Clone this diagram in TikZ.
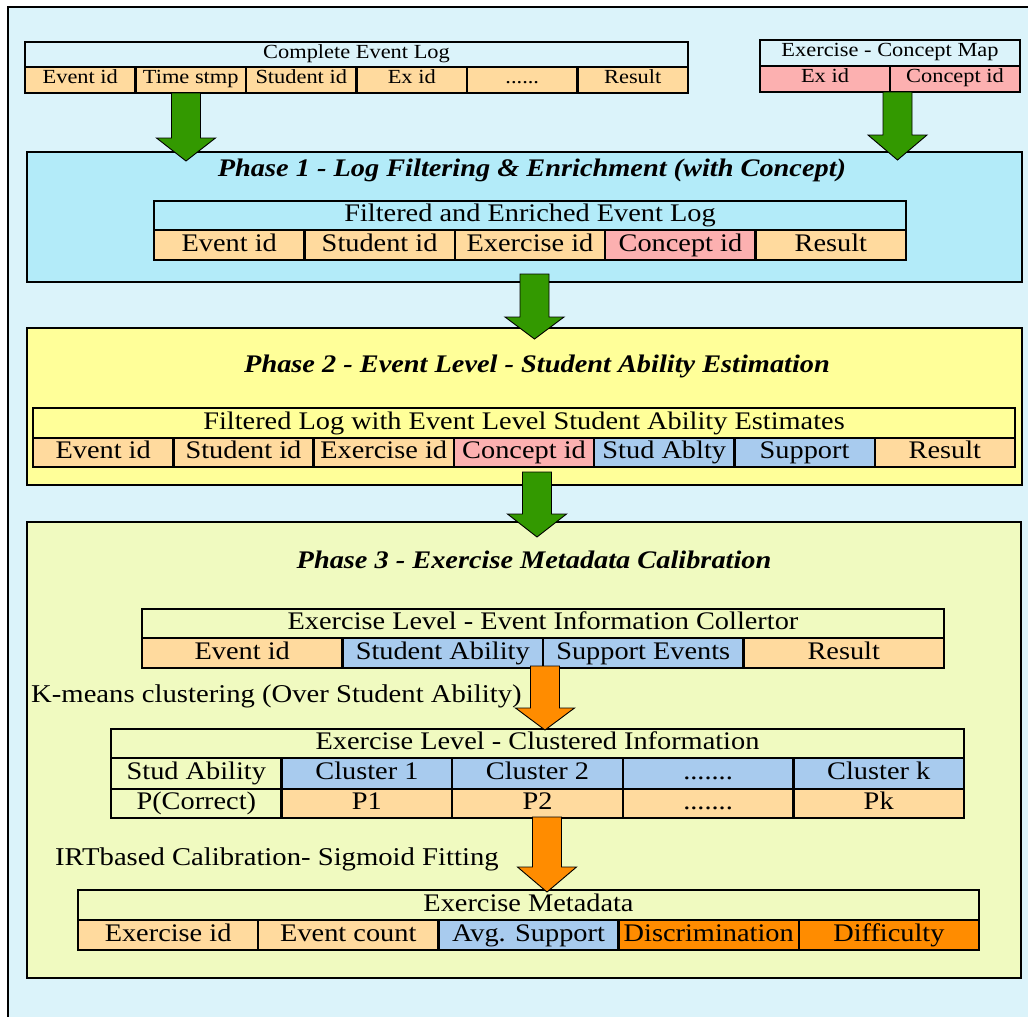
\documentclass[tikz,border=0pt]{standalone}
\usepackage{fontspec}
\setmainfont{Liberation Serif}[FakeStretch=1.12]
\definecolor{bgblue}{HTML}{DBF3FA}
\definecolor{phaseone}{HTML}{B3EBF9}
\definecolor{phasetwo}{HTML}{FFFF99}
\definecolor{phasethree}{HTML}{F0FAC0}
\definecolor{lorange}{HTML}{FFDA9E}
\definecolor{lpink}{HTML}{FCB0B0}
\definecolor{lblue}{HTML}{A8CBEE}
\definecolor{dorange}{HTML}{FF8C00}
\definecolor{agreen}{HTML}{339900}
\tikzset{
  cellbox/.style={draw=black, line width=2.4pt, inner sep=0pt, outer sep=0pt, anchor=north west},
  smallcells/.style={font=\fontsize{20}{24}\selectfont, text height=14pt, text depth=7pt},
  bigcells/.style={font=\fontsize{25.3}{30}\selectfont, text height=18pt, text depth=6pt},
  celltext/.style={smallcells},
  phasebox/.style={draw=black, line width=2.4pt, outer sep=0pt},
  phasetitle/.style={font=\fontsize{25.3}{30}\selectfont\bfseries\itshape, inner sep=0pt},
  steplabel/.style={font=\fontsize{25.6}{30}\selectfont, inner sep=0pt, anchor=west},
  blockarrow/.style={draw=black, line width=0.9pt, line join=miter}
}
\newcommand{\tcell}[7]{%
  \pgfmathsetmacro\cw{#4-#2}\pgfmathsetmacro\ch{#5-#3}%
  \node[cellbox, celltext, fill=#6, minimum width=\cw pt, minimum height=\ch pt] (#1) at (#2,#3) {#7};}
% name, centre x, top y, head start y, tip y, colour
\newcommand{\blockarr}[6]{%
  \coordinate (#1-top) at (#2,#3);
  \coordinate (#1-tip) at (#2,#5);
  \fill[#6] ($(#1-top)+(-14.5,0)$) -- ($(#1-top)+(14.5,0)$) -- (#2+14.5,#4) -- (#2+29.5,#4)
     -- (#1-tip) -- (#2-29.5,#4) -- (#2-14.5,#4) -- cycle;
  \draw[blockarrow] ($(#1-top)+(-14.5,0)$) -- ($(#1-top)+(14.5,0)$) -- (#2+14.5,#4) -- (#2+29.5,#4)
     -- (#1-tip) -- (#2-29.5,#4) -- (#2-14.5,#4) -- cycle;}
\usetikzlibrary{calc}
\begin{document}
\begin{tikzpicture}[x=1pt,y=-1pt]
\useasboundingbox (0,0) rectangle (1028,1017);
\clip (0,0) rectangle (1028,1017);
\draw[line width=2.4pt, fill=bgblue] (8,7) rectangle (1045,1040);

% ---------- top left table
\tikzset{celltext/.style={smallcells}}
\tcell{logh}{25}{42}{688}{67}{none}{Complete Event Log}
\tcell{log1}{25}{67}{135.5}{93}{lorange}{Event id}
\tcell{log2}{135.5}{67}{246}{93}{lorange}{Time stmp}
\tcell{log3}{246}{67}{356.5}{93}{lorange}{Student id}
\tcell{log4}{356.5}{67}{467}{93}{lorange}{Ex id}
\tcell{log5}{467}{67}{577.5}{93}{lorange}{......}
\tcell{log6}{577.5}{67}{688}{93}{lorange}{Result}
% ---------- top right table
\tcell{maph}{760}{40}{1020}{66}{none}{Exercise - Concept Map}
\tcell{map1}{760}{66}{890}{92}{lpink}{Ex id}
\tcell{map2}{890}{66}{1020}{92}{lpink}{Concept id}

% ---------- Phase 1
\node[phasebox, fill=phaseone, minimum width=995pt, minimum height=130pt, anchor=north west, inner sep=0pt] (ph1) at (27,152) {};
\node[phasetitle] (ph1t) at (532,170) {Phase 1 - Log Filtering \& Enrichment (with Concept)};
\tikzset{celltext/.style={bigcells}}
\tcell{feh}{154}{201}{906}{230}{none}{Filtered and Enriched Event Log}
\tcell{fe1}{154}{230}{304.4}{260}{lorange}{Event id}
\tcell{fe2}{304.4}{230}{454.8}{260}{lorange}{Student id}
\tcell{fe3}{454.8}{230}{605.2}{260}{lorange}{Exercise id}
\tcell{fe4}{605.2}{230}{755.6}{260}{lpink}{Concept id}
\tcell{fe5}{755.6}{230}{906}{260}{lorange}{Result}

% ---------- Phase 2
\node[phasebox, fill=phasetwo, minimum width=995pt, minimum height=157pt, anchor=north west, inner sep=0pt] (ph2) at (27,328) {};
\node[phasetitle] (ph2t) at (537,366) {Phase 2 - Event Level - Student Ability Estimation};
\tcell{sah}{33}{408}{1015}{438}{none}{Filtered Log with Event Level Student Ability Estimates}
\tcell{sa1}{33}{438}{173.3}{467}{lorange}{Event id}
\tcell{sa2}{173.3}{438}{313.6}{467}{lorange}{Student id}
\tcell{sa3}{313.6}{438}{453.9}{467}{lorange}{Exercise id}
\tcell{sa4}{453.9}{438}{594.1}{467}{lpink}{Concept id}
\tcell{sa5}{594.1}{438}{734.4}{467}{lblue}{Stud Ablty}
\tcell{sa6}{734.4}{438}{874.7}{467}{lblue}{Support}
\tcell{sa7}{874.7}{438}{1015}{467}{lorange}{Result}

% ---------- Phase 3
\node[phasebox, fill=phasethree, minimum width=994pt, minimum height=456pt, anchor=north west, inner sep=0pt] (ph3) at (27,522) {};
\node[phasetitle] (ph3t) at (534,560) {Phase 3 - Exercise Metadata Calibration};
\tcell{eih}{142}{609}{944}{638}{none}{Exercise Level - Event Information Collertor}
\tcell{ei1}{142}{638}{342.5}{668}{lorange}{Event id}
\tcell{ei2}{342.5}{638}{543}{668}{lblue}{Student Ability}
\tcell{ei3}{543}{638}{743.5}{668}{lblue}{Support Events}
\tcell{ei4}{743.5}{638}{944}{668}{lorange}{Result}

\tcell{cih}{111}{729}{964}{758}{none}{Exercise Level - Clustered Information}
\tcell{ci11}{111}{758}{281.6}{789}{none}{Stud Ability}
\tcell{ci12}{281.6}{758}{452.2}{789}{lblue}{Cluster 1}
\tcell{ci13}{452.2}{758}{622.8}{789}{lblue}{Cluster 2}
\tcell{ci14}{622.8}{758}{793.4}{789}{lblue}{.......}
\tcell{ci15}{793.4}{758}{964}{789}{lblue}{Cluster k}
\tcell{ci21}{111}{789}{281.6}{818}{none}{P(Correct)}
\tcell{ci22}{281.6}{789}{452.2}{818}{lorange}{P1}
\tcell{ci23}{452.2}{789}{622.8}{818}{lorange}{P2}
\tcell{ci24}{622.8}{789}{793.4}{818}{lorange}{.......}
\tcell{ci25}{793.4}{789}{964}{818}{lorange}{Pk}

\tcell{mdh}{78}{890}{979}{920}{none}{Exercise Metadata}
\tcell{md1}{78}{920}{258.2}{950}{lorange}{Exercise id}
\tcell{md2}{258.2}{920}{438.4}{950}{lorange}{Event count}
\tcell{md3}{438.4}{920}{618.6}{950}{lblue}{Avg. Support}
\tcell{md4}{618.6}{920}{798.8}{950}{dorange}{Discrimination}
\tcell{md5}{798.8}{920}{979}{950}{dorange}{Difficulty}

\node[steplabel] (kml) at (31,696) {K-means clustering (Over Student Ability)};
\node[steplabel] (irtl) at (55,859) {IRTbased Calibration- Sigmoid Fitting};

% ---------- block arrows
\blockarr{ga}{186}{93}{138}{161}{agreen}
\blockarr{gb}{897.5}{92}{135}{160}{agreen}
\blockarr{gc}{534.5}{274}{317}{339}{agreen}
\blockarr{gd}{537}{472}{514}{537}{agreen}
\blockarr{oa}{545}{666}{708}{730}{dorange}
\blockarr{ob}{547}{817}{867}{892}{dorange}
\end{tikzpicture}
\end{document}
